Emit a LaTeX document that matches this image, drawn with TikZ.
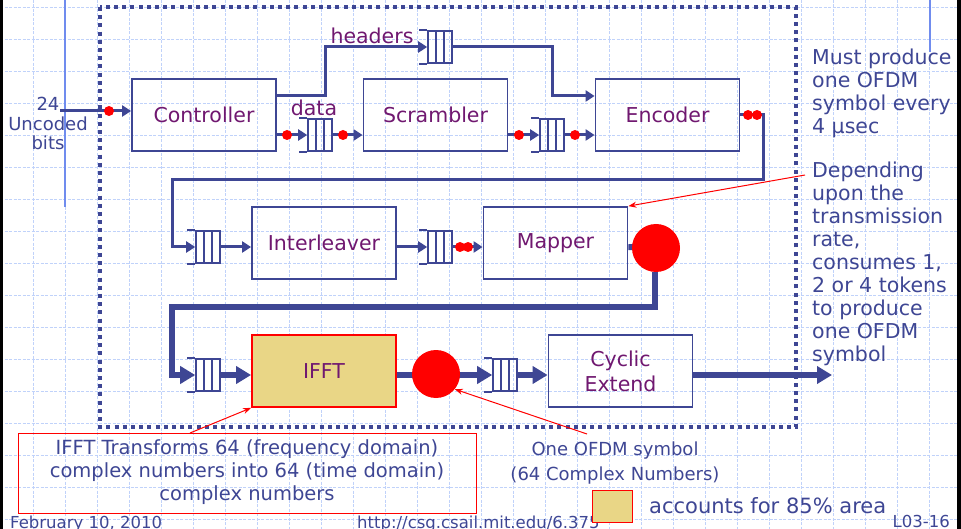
\documentclass[tikz,border=0pt]{standalone}
\usepackage{fontspec}
\setmainfont{DejaVu Sans}
\usetikzlibrary{arrows.meta}

\definecolor{ink}{RGB}{62,70,148}
\definecolor{plum}{RGB}{112,24,112}
\definecolor{gridblue}{RGB}{192,210,250}
\definecolor{railblue}{RGB}{112,140,238}
\definecolor{sand}{RGB}{233,214,134}

\begin{document}
\begin{tikzpicture}[x=1pt,y=-1pt,
  block/.style={draw=ink, line width=1.8pt, minimum width=144pt, minimum height=72pt,
    inner sep=0pt, text=plum, font=\fontsize{20.5}{25}\selectfont, align=center},
  fifo/.style={draw=ink, line width=1.6pt, minimum width=24pt, minimum height=32pt, inner sep=0pt,
    path picture={\draw[ink, line width=1.6pt]
      ([xshift=8pt]path picture bounding box.south west) -- ([xshift=8pt]path picture bounding box.north west)
      ([xshift=16pt]path picture bounding box.south west) -- ([xshift=16pt]path picture bounding box.north west);},
    append after command={\pgfextra{\draw[ink, line width=1.6pt]
      (\tikzlastnode.north west) -- ++(-8pt,0pt) (\tikzlastnode.south west) -- ++(-8pt,0pt);}}},
  wire/.style={draw=ink, line width=3pt},
  wirearr/.style={wire, -{Triangle[length=9pt,width=11pt]}},
  bus/.style={draw=ink, line width=6pt},
  busarr/.style={bus, -{Triangle[length=15pt,width=17pt]}},
  tok/.style={circle, fill=red, minimum size=10pt, inner sep=0pt},
  bigtok/.style={circle, fill=red, minimum size=48pt, inner sep=0pt},
  note/.style={text=ink, font=\fontsize{20.5}{23}\selectfont, align=left, inner sep=0pt},
  callout/.style={draw=red, line width=1pt, -{Stealth[length=8pt,width=6pt]}},
  lbl/.style={text=ink, inner sep=0pt},
]
\useasboundingbox (0,0) rectangle (961,529);
\fill[white] (0,0) rectangle (961,529);

% background grid
\foreach \gx in {33,65,...,961}
  \draw[gridblue, line width=0.8pt, dash pattern=on 3pt off 1.5pt] (\gx,0) -- (\gx,529);
\foreach \gy in {7,39,...,519}
  \draw[gridblue, line width=0.8pt, dash pattern=on 3pt off 1.5pt] (0,\gy) -- (961,\gy);

% page rails and edges
\draw[railblue, line width=1.6pt] (65,0) -- (65,207);
\draw[railblue, line width=1.6pt] (930,0) -- (930,52);
\fill[black] (0,0) rectangle (3,529);
\fill[black] (957,0) rectangle (961,529);

% dotted frame round the transmitter
\draw[ink, line width=4pt, dash pattern=on 4pt off 4.2pt] (100,7) rectangle (796,427);

% processing blocks
\node[block] (ctrl) at (204,115) {Controller};
\node[block] (scr) at (435.5,115) {Scrambler};
\node[block] (enc) at (667.5,115) {Encoder};
\node[block] (intl) at (324,243) {Interleaver};
\node[block] (mapper) at (555.5,243) {Mapper};
\node[block, draw=red, fill=sand] (ifft) at (324,371) {IFFT};
\node[block] (cyc) at (620.5,371) {Cyclic\\Extend};

% FIFOs
\node[fifo] (qh) at (440,47) {};
\node[fifo] (qd) at (320,135) {};
\node[fifo] (qs) at (552,135) {};
\node[fifo] (qi) at (208,247) {};
\node[fifo] (qo) at (440,247) {};
\node[fifo] (qf) at (208,375) {};
\node[fifo] (qc) at (505,375) {};

% top row
\coordinate (bitsin) at (60,111);
\draw[wirearr] (bitsin) -- (bitsin -| ctrl.west);
\draw[wirearr] ([yshift=19pt]ctrl.east) -- ++(49,0) |- (qh.west);
\draw[wirearr] (qh.east) -- ++(100,0) |- ([yshift=19pt]enc.west);
\draw[wirearr] ([yshift=-20pt]ctrl.east) -- (qd.west);
\draw[wirearr] (qd.east) -- (qd.east -| scr.west);
\draw[wirearr] (qs.west -| scr.east) -- (qs.west);
\draw[wirearr] (qs.east) -- (qs.east -| enc.west);
\draw[wirearr] (enc.east) -- ++(23,0) |- (172,180) |- (qi.west);

% middle row
\draw[wirearr] (qi.east) -- (qi.east -| intl.west);
\draw[wirearr] (qo.west -| intl.east) -- (qo.west);
\draw[wirearr] (qo.east) -- (qo.east -| mapper.west);
\draw[bus] (mapper.east |- qo.east) -- (656,248);
\node[bigtok] (tokm) at (656,248) {};
\draw[busarr] (655,272) |- (172,307) |- (qf.west);

% bottom row
\draw[busarr] (qf.east) -- (qf.east -| ifft.west);
\draw[busarr] (qc.west -| ifft.east) -- (qc.west);
\node[bigtok] (toki) at (436,374) {};
\draw[busarr] (qc.east) -- (qc.east -| cyc.west);
\coordinate (out) at (832,375);
\draw[busarr] (cyc.east |- qc.east) -- (out);

% tokens on the links
\node[tok] (t1) at (109,111) {};
\node[tok] (t2) at (287,135) {};
\node[tok] (t3) at (343,135) {};
\node[tok] (t4) at (519,135) {};
\node[tok] (t5) at (575,135) {};
\node[tok] (t6) at (748,115) {};
\node[tok] (t7) at (757,115) {};
\node[tok] (t8) at (460,247) {};
\node[tok] (t9) at (468,247) {};

% link labels
\node[lbl, align=center, font=\fontsize{18}{19.5}\selectfont] (inlbl) at (48,123.5) {24\\Uncoded\\bits};
\node[lbl, text=plum, font=\fontsize{20.5}{24}\selectfont] (hlbl) at (372,36) {headers};
\node[lbl, text=plum, font=\fontsize{20.5}{24}\selectfont] (dlbl) at (314,108) {data};

% side notes
\node[note, anchor=north west] (must) at (812,49) {Must produce\\one OFDM\\symbol every\\4 μsec};
\node[note, anchor=north west] (dep) at (812,162) {Depending\\upon the\\transmission\\rate,\\consumes 1,\\2 or 4 tokens\\to produce\\one OFDM\\symbol};
\coordinate (depfoot) at (805,175);
\draw[callout] (depfoot) -- (mapper.north east);

\node[draw=red, line width=1pt, minimum width=458pt, minimum height=80pt, inner sep=0pt,
  text=ink, font=\fontsize{19.5}{23}\selectfont, align=center, text depth=5pt] (ifftnote) at (247,473)
  {IFFT Transforms 64 (frequency domain)\\complex numbers into 64 (time domain)\\complex numbers};
\coordinate (ifftfoot) at (190,433);
\draw[callout] (ifftfoot) -- (ifft.south west);

\node[lbl, align=center, font=\fontsize{18}{25}\selectfont] (symnote) at (615,463)
  {One OFDM symbol\\(64 Complex Numbers)};
\coordinate (symfoot) at (587,434);
\draw[callout] (symfoot) -- (toki.-39);

% footer
\node[lbl, anchor=base west, font=\fontsize{16.5}{18}\selectfont] (date) at (10,528) {February 10, 2010};
\node[lbl, anchor=base west, font=\fontsize{16.5}{18}\selectfont] (url) at (357,528) {http://csg.csail.mit.edu/6.375};
\node[lbl, anchor=base east, font=\fontsize{16.5}{18}\selectfont] (slide) at (950,527.5) {L03-16};

% legend
\node[draw=red, fill=sand, line width=1pt, minimum width=40pt, minimum height=32pt, inner sep=0pt] (key) at (612,506) {};
\node[lbl, anchor=west, font=\fontsize{21}{24}\selectfont] (keytext) at (649,506) {accounts for 85\% area};
\end{tikzpicture}
\end{document}
